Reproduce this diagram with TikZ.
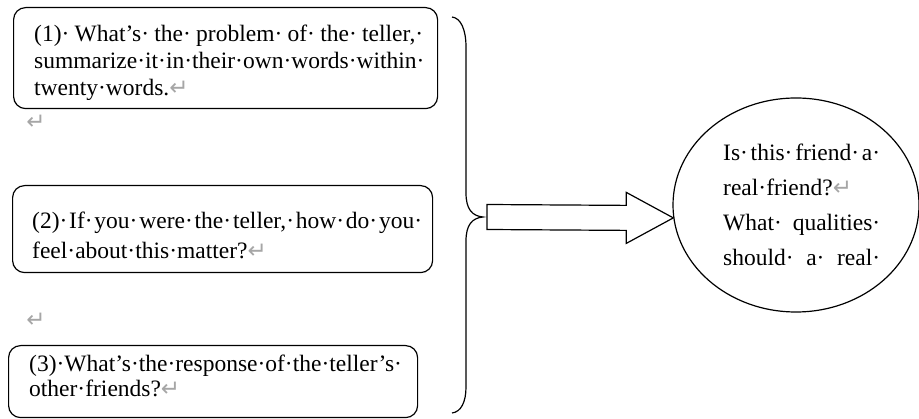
\documentclass[tikz,border=0pt]{standalone}
\usepackage{fontspec}
\setmainfont{Liberation Serif}
\newfontfamily\markfont{DejaVu Sans}
\usetikzlibrary{shapes.geometric, calc}
\newcommand{\pmark}{{\markfont\fontsize{23}{23}\selectfont\color{black!35}↵}}
\newcommand{\jd}{·\hfill}
\tikzstyle{blockarrow} = [draw=black, line width=1.2pt, fill=white, line join=miter]
\tikzstyle{brace} = [draw=black, line width=1.2pt]

\begin{document}
\begin{tikzpicture}[
    x=1pt, y=-1pt,
    qbox/.style={rectangle, rounded corners=12pt, draw=black, line width=1.2pt, fill=white,
                 anchor=north west, inner sep=0pt},
    qtext/.style={anchor=base west, inner sep=0pt, align=left,
                  font=\fontsize{23.5}{#1}\selectfont},
    bubble/.style={ellipse, draw=black, line width=1.2pt, inner sep=0pt,
                   minimum width=246pt, minimum height=214pt},
    retmark/.style={inner sep=0pt}
]
    \useasboundingbox (0,0) rectangle (919,419);

    % Stray paragraph marks
    \node[retmark] (m1) at (36,122) {\pmark};
    \node[retmark] (m3) at (36,320) {\pmark};

    % Question boxes
    \node[qbox, minimum width=424pt, minimum height=101pt] (q1) at (13,7) {};
    \node[qbox, minimum width=420pt, minimum height=87pt] (q2) at (12,185) {};
    \node[qbox, minimum width=409pt, minimum height=72pt] (q3) at (8,345) {};

    \begin{scope}
        \clip (q1.north west) rectangle ($(q1.south east)+(0,-10)$);
        \node[qtext=27pt, text width=389pt] (t1) at (34,42)
            {(1)\jd What’s\jd the\jd problem\jd of\jd the\jd teller,·\\
             summarize·it·in·their·own·words·within·\\
             twenty·words.\pmark};
    \end{scope}
    \node[qtext=30pt, text width=390pt] (t2) at (32,229)
        {(2)\jd If\jd you\jd were\jd the\jd teller,\jd how\jd do\jd you·\\
         feel·about·this·matter?\pmark};
    \node[qtext=25pt, text width=370pt] (t3) at (29,372)
        {(3)·What’s·the·response·of·the·teller’s·\\
         other·friends?\pmark};

    % Brace
    \coordinate (btop) at (452,17);
    \coordinate (bbot) at (452,413);
    \coordinate (tip) at (483,217);
    \draw[brace] (btop) .. controls (461,18) and (466,30) .. (466,47) -- (466,193)
        .. controls (466,209) and (472,216) .. (tip)
        .. controls (472,218) and (466,225) .. (466,241) -- (466,387)
        .. controls (466,402) and (461,412) .. (bbot);

    % Conclusion
    \node[bubble] (ell) at (796,205) {};
    \node[qtext=35pt, text width=157pt] (t4) at (723,161)
        {Is\jd this\jd friend\jd a·\\
         real·friend?\pmark\\
         What\jd qualities·\\
         should\jd a\jd real·};

    % Block arrow
    \draw[blockarrow] ($(tip)+(4,-12.5)$) -- ($(ell.186)+(-47,-12.5)$) -- ($(ell.186)+(-47,-25.5)$)
        -- (ell.186) -- ($(ell.186)+(-47,25.5)$) -- ($(ell.186)+(-47,12.5)$)
        -- ($(tip)+(4,12.5)$) -- cycle;

\end{tikzpicture}
\end{document}
